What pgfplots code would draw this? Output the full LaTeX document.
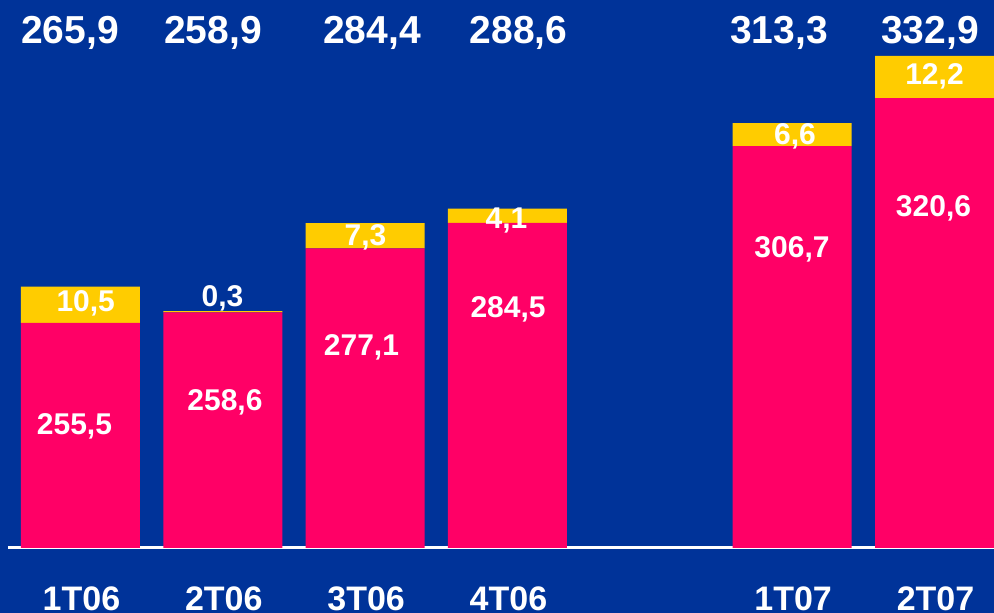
\documentclass[border=0pt]{standalone}
\usepackage{fontspec}
\setmainfont{Liberation Sans}
\usepackage{pgfplots}
\pgfplotsset{compat=1.18}
\definecolor{bg}{RGB}{0,51,153}
\definecolor{pk}{RGB}{255,0,102}
\definecolor{yl}{RGB}{255,204,0}
\tikzset{
  tot/.style={text=white, anchor=base, inner sep=0pt, font=\fontsize{19.5}{22}\selectfont\bfseries},
  lbl/.style={text=white, anchor=base, inner sep=0pt, font=\fontsize{15}{18}\selectfont\bfseries},
}
\begin{document}
\begin{tikzpicture}
\useasboundingbox (0,0) rectangle (497pt,306.5pt);
\clip (0,0) rectangle (497pt,306.5pt);
\fill[bg] (0,0) rectangle (497pt,306.5pt);
\begin{axis}[
  at={(4pt,32.5pt)}, anchor=south west,
  scale only axis, width=493pt, height=274pt,
  xmin=-0.509, xmax=6.418, ymin=190.4, ymax=348.96,
  clip mode=individual,
  ybar stacked, bar width=0.836,
  axis x line*=bottom, axis y line=none,
  x axis line style={white, line width=1.5pt},
  ytick=\empty,
  xtick={0,1,2,3,5,6}, xticklabels={1T06,2T06,3T06,4T06,1T07,2T07},
  major tick length=0pt,
  xticklabel style={anchor=base, yshift=-31.5pt, xshift=0.5pt, text=white, inner sep=0pt, font=\fontsize{17}{20}\selectfont\bfseries},
]
\addplot[fill=pk, draw=none] coordinates {(0,255.5) (1,258.6) (2,277.1) (3,284.5) (5,306.7) (6,320.6)};
\addplot[fill=yl, draw=none] coordinates {(0,10.5) (1,0.3) (2,7.3) (3,4.1) (5,6.6) (6,12.2)};
% totals
\coordinate (t1) at (axis cs:-0.074,336.5);
\coordinate (t2) at (axis cs:0.931,336.5);
\coordinate (t3) at (axis cs:2.048,336.5);
\coordinate (t4) at (axis cs:3.077,336.5);
\coordinate (t5) at (axis cs:4.907,336.5);
\coordinate (t6) at (axis cs:5.969,336.5);
% pink values
\coordinate (p1) at (axis cs:-0.042,223.10);
\coordinate (p2) at (axis cs:1.015,230.04);
\coordinate (p3) at (axis cs:1.974,245.96);
\coordinate (p4) at (axis cs:3.004,256.95);
\coordinate (p5) at (axis cs:4.999,274.31);
\coordinate (p6) at (axis cs:5.993,286.18);
% yellow values
\coordinate (y1) at (axis cs:0.037,258.69);
\coordinate (y2) at (axis cs:0.998,260.13);
\coordinate (y3) at (axis cs:2.002,277.78);
\coordinate (y4) at (axis cs:2.993,282.70);
\coordinate (y5) at (axis cs:5.020,307.01);
\coordinate (y6) at (axis cs:6.000,324.40);
\end{axis}
\node[tot] at (t1) {265,9};
\node[tot] at (t2) {258,9};
\node[tot] at (t3) {284,4};
\node[tot] at (t4) {288,6};
\node[tot] at (t5) {313,3};
\node[tot] at (t6) {332,9};
\node[lbl] at (p1) {255,5};
\node[lbl] at (p2) {258,6};
\node[lbl] at (p3) {277,1};
\node[lbl] at (p4) {284,5};
\node[lbl] at (p5) {306,7};
\node[lbl] at (p6) {320,6};
\node[lbl] at (y1) {10,5};
\node[lbl] at (y2) {0,3};
\node[lbl] at (y3) {7,3};
\node[lbl] at (y4) {4,1};
\node[lbl] at (y5) {6,6};
\node[lbl] at (y6) {12,2};
\end{tikzpicture}
\end{document}
